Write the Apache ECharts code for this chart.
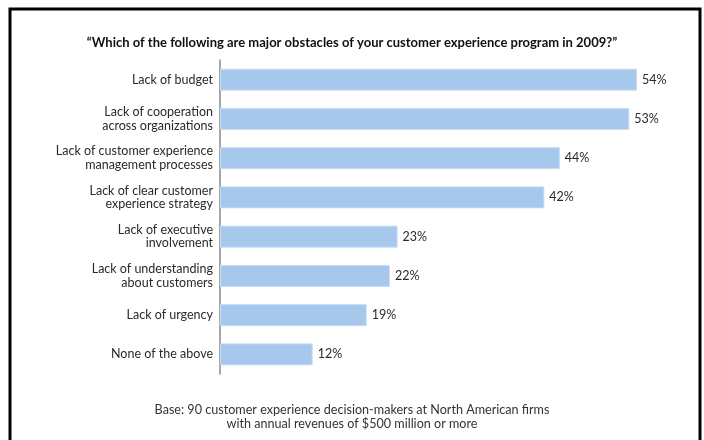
<!DOCTYPE html>
<html>
<head>
<meta charset="utf-8">
<script src="https://cdn.jsdelivr.net/npm/echarts@6/dist/echarts.min.js"></script>
<style>
html,body{margin:0;padding:0;background:#fff;}
#chart{width:704px;height:440px;}
</style>
</head>
<body>
<div id="chart"></div>
<script>
const titleText = '\u201CWhich of the following are major obstacles of your customer experience program in 2009?\u201D';
const footerText = 'Base: 90 customer experience decision-makers at North American firms\nwith annual revenues of $500 million or more';
const categories = [
  'Lack of budget',
  'Lack of cooperation\nacross organizations',
  'Lack of customer experience\nmanagement processes',
  'Lack of clear customer\nexperience strategy',
  'Lack of executive\ninvolvement',
  'Lack of understanding\nabout customers',
  'Lack of urgency',
  'None of the above'
];
const values = [54, 53, 44, 42, 23, 22, 19, 12];

const FONT = 'Lato';
const chart = echarts.init(document.getElementById('chart'), null, {renderer: 'canvas'});
chart.setOption({
  backgroundColor: '#fff',
  animation: false,
  title: [
    {text: titleText, left: 'center', top: 31,
     textStyle: {fontFamily: FONT, fontSize: 13, fontWeight: 'bold', color: '#111'}},
    {text: footerText, left: 'center', top: 398,
     textStyle: {fontFamily: FONT, fontSize: 12.6, fontWeight: 'normal', color: '#333', lineHeight: 14}}
  ],
  graphic: [
    {type: 'rect', shape: {x: 10, y: 9, width: 690, height: 460},
     style: {fill: 'none', stroke: '#000', lineWidth: 3}, z: 100}
  ],
  grid: {left: 220, top: 60, width: 417 * 60 / 54, height: 314, containLabel: false},
  xAxis: {type: 'value', min: 0, max: 60, show: false},
  yAxis: {
    type: 'category', data: categories, inverse: true,
    axisLine: {show: true, lineStyle: {color: '#8a8a8a', width: 1.5}},
    axisTick: {show: false},
    axisLabel: {fontFamily: FONT, fontSize: 12.5, color: '#2a2a2a', lineHeight: 13.5, margin: 7, align: 'right'}
  },
  series: [{
    type: 'bar', data: values, barWidth: 22,
    itemStyle: {color: '#a6c8ec', borderColor: '#c6dcf2', borderWidth: 1},
    label: {show: true, position: 'right', distance: 5, formatter: '{c}%',
            fontFamily: FONT, fontSize: 12.5, color: '#2a2a2a'}
  }]
});
</script>
</body>
</html>
